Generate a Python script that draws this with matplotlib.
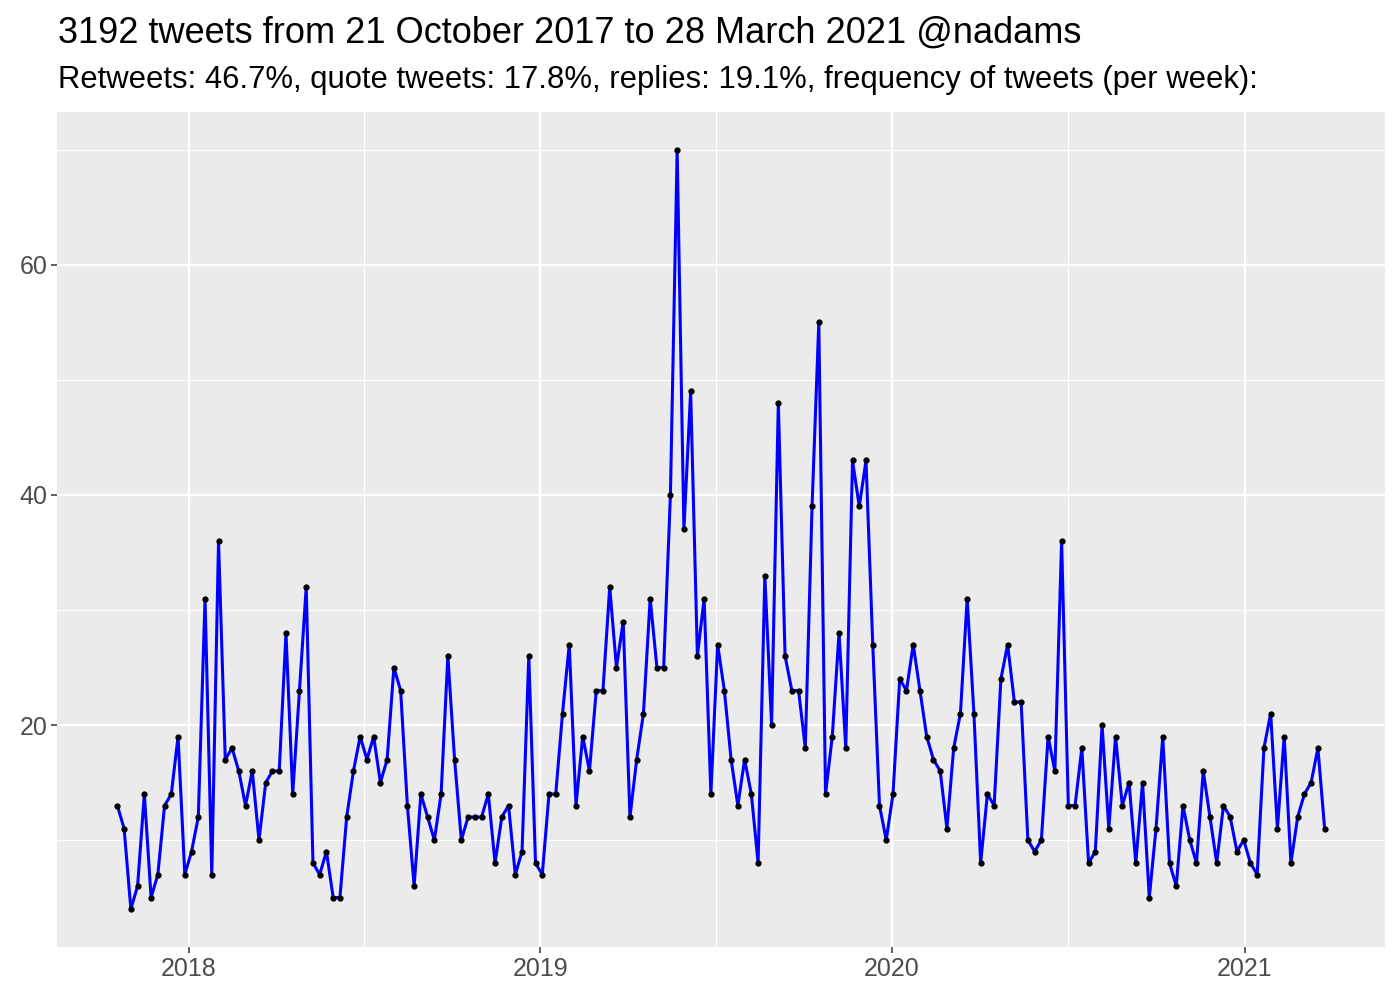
import matplotlib
matplotlib.use("Agg")
import matplotlib.pyplot as plt
import matplotlib.dates as mdates
import numpy as np
import pandas as pd

# weekly tweet counts, weeks starting 2017-10-19
start_week = "2017-10-19"
counts = [
    13, 11, 4, 6, 14, 5, 7, 13, 14, 19, 7, 9, 12, 31, 7, 36, 17, 18, 16, 13,
    16, 10, 15, 16, 16, 28, 14, 23, 32, 8, 7, 9, 5, 5, 12, 16, 19, 17, 19, 15,
    17, 25, 23, 13, 6, 14, 12, 10, 14, 26, 17, 10, 12, 12, 12, 14, 8, 12, 13, 7,
    9, 26, 8, 7, 14, 14, 21, 27, 13, 19, 16, 23, 23, 32, 25, 29, 12, 17, 21, 31,
    25, 25, 40, 70, 37, 49, 26, 31, 14, 27, 23, 17, 13, 17, 14, 8, 33, 20, 48, 26,
    23, 23, 18, 39, 55, 14, 19, 28, 18, 43, 39, 43, 27, 13, 10, 14, 24, 23, 27, 23,
    19, 17, 16, 11, 18, 21, 31, 21, 8, 14, 13, 24, 27, 22, 22, 10, 9, 10, 19, 16,
    36, 13, 13, 18, 8, 9, 20, 11, 19, 13, 15, 8, 15, 5, 11, 19, 8, 6, 13, 10,
    8, 16, 12, 8, 13, 12, 9, 10, 8, 7, 18, 21, 11, 19, 8, 12, 14, 15, 18, 11,
]
weeks = pd.date_range(start_week, periods=len(counts), freq="7D")

title = "3192 tweets from 21 October 2017 to 28 March 2021 @nadams"
subtitle = "Retweets: 46.7%, quote tweets: 17.8%, replies: 19.1%, frequency of tweets (per week):"
y_major = [20, 40, 60]
y_minor = [10, 30, 50, 70]
x_major = ["2018-01-01", "2019-01-01", "2020-01-01", "2021-01-01"]
x_minor = ["2017-07-02", "2018-07-02", "2019-07-02", "2020-07-02"]

plt.rcParams["font.family"] = ["Liberation Sans", "DejaVu Sans"]

fig = plt.figure(figsize=(14, 10), dpi=100)
ax = fig.add_axes([57 / 1400, 1 - 947 / 1000, (1385 - 57) / 1400, (947 - 112) / 1000])
ax.set_facecolor("#EBEBEB")

# ggplot-like expansion of 5%
span = weeks[-1] - weeks[0]
ax.set_xlim(weeks[0] - span * 0.05, weeks[-1] + span * 0.05)
rng = max(counts) - min(counts)
ax.set_ylim(min(counts) - rng * 0.05, max(counts) + rng * 0.05)

for y in y_minor:
    ax.axhline(y, color="white", lw=0.8, zorder=0)
for y in y_major:
    ax.axhline(y, color="white", lw=1.6, zorder=0)
for d in x_minor:
    ax.axvline(pd.Timestamp(d), color="white", lw=0.8, zorder=0)
for d in x_major:
    ax.axvline(pd.Timestamp(d), color="white", lw=1.6, zorder=0)

ax.plot(weeks, counts, color="blue", lw=2.2, zorder=2)
ax.plot(weeks, counts, "o", color="black", ms=3.5, zorder=3)

ax.set_yticks(y_major)
ax.set_xticks([pd.Timestamp(d) for d in x_major])
ax.xaxis.set_major_formatter(mdates.DateFormatter("%Y"))
ax.tick_params(axis="both", colors="#333333", labelcolor="#4D4D4D",
               labelsize=18, length=4, width=1.1, pad=3)
for s in ax.spines.values():
    s.set_visible(False)

fig.text(58 / 1400, 1 - 43 / 1000, title, fontsize=26, color="black")
fig.text(58 / 1400, 1 - 88 / 1000, subtitle, fontsize=22.3, color="black")

fig.savefig("out.png", dpi=100)
